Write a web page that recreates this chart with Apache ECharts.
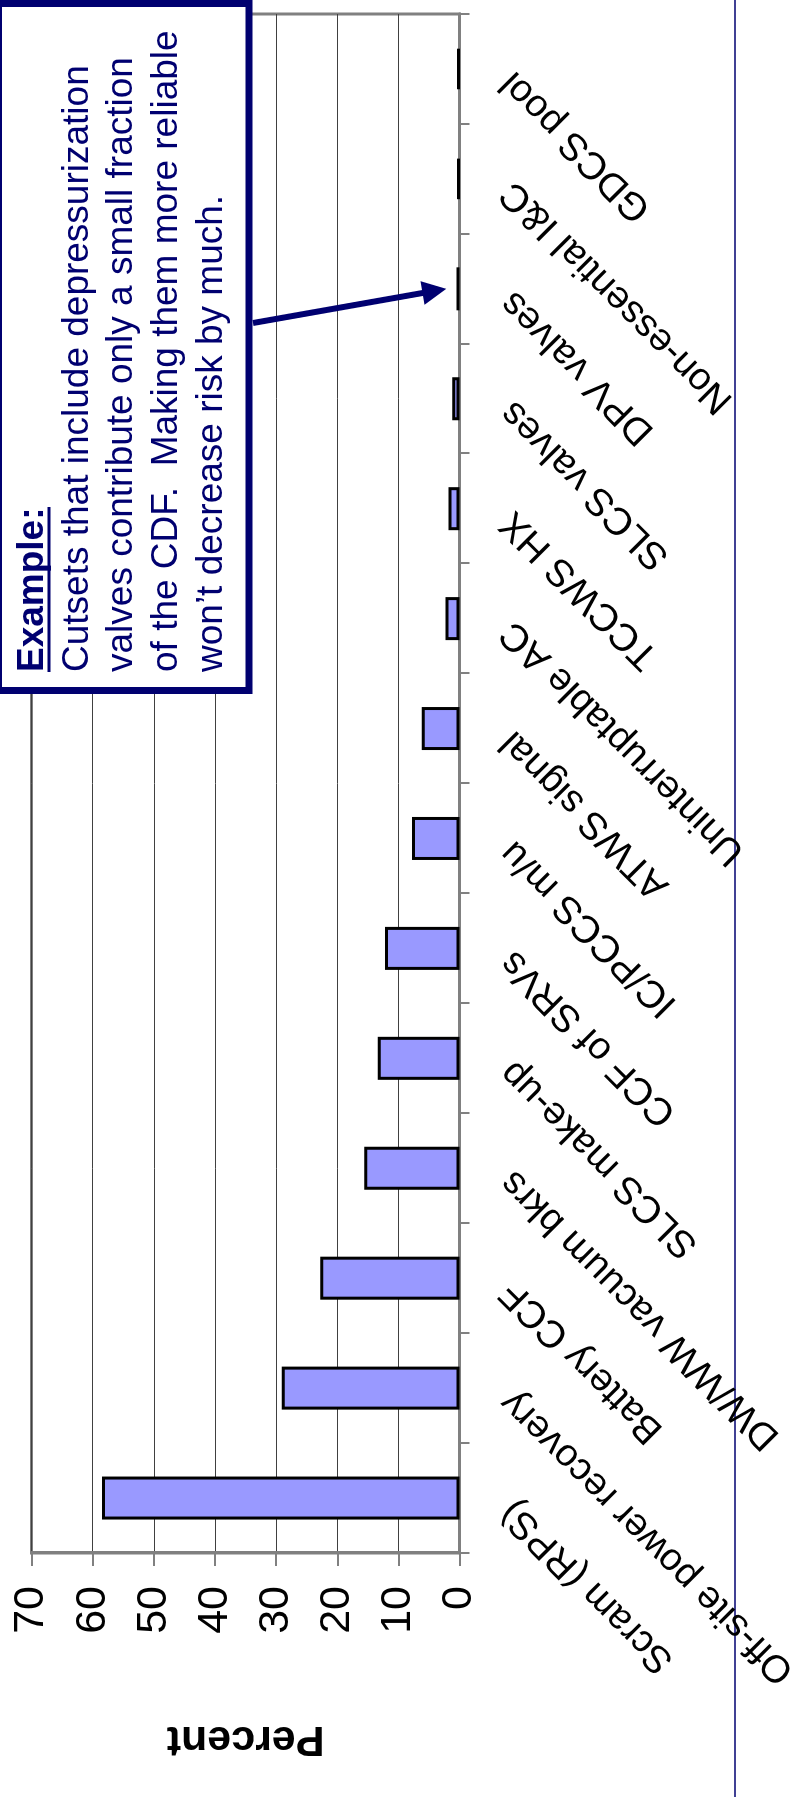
<!DOCTYPE html>
<html>
<head>
<meta charset="utf-8">
<title>Cutset contributions to CDF</title>
<script src="https://cdn.jsdelivr.net/npm/echarts@6/dist/echarts.min.js"></script>
<style>
  html, body { margin: 0; padding: 0; width: 799px; height: 1797px; overflow: hidden; background: #ffffff; }
  /* The chart is laid out landscape and turned a quarter turn counter-clockwise onto the portrait page. */
  #stage {
    position: absolute; left: 0; top: 0;
    width: 1797px; height: 799px;
    transform-origin: 0 0;
    transform: translateY(1797px) rotate(-90deg);
  }
</style>
</head>
<body>
<div id="stage"></div>
<script>
// Contributors, left to right along the category axis
const categories = [
  'Scram (RPS)',
  'Off-site power recovery',
  'Battery CCF',
  'DW/WW vacuum bkrs',
  'SLCS make-up',
  'CCF of SRVs',
  'IC/PCCS m/u',
  'ATWS signal',
  'Uninterruptable AC',
  'TCCWS HX',
  'SLCS valves',
  'DPV valves',
  'Non-essential I&C',
  'GDCS pool'
];

// Share of core damage frequency, percent
const percentValues = [58.5, 29.1, 22.8, 15.6, 13.4, 12.2, 7.8, 6.2, 2.3, 1.8, 1.2, 0.5, 0.4, 0.4];

// Value-axis tick labels
const percentTicks = [0, 10, 20, 30, 40, 50, 60, 70];

// Call-out text
const noteTitle = 'Example:';
const noteLines = [
  'Cutsets that include depressurization',
  'valves contribute only a small fraction',
  'of the CDF.  Making them more reliable',
  'won\u2019t decrease risk by much.'
];
const noteTarget = 'DPV valves';
const noteTargetValue = 2.2;

const FONT = 'Arial, "Liberation Sans", Helvetica, sans-serif';
const NAVY = '#000070';
const AXIS_GREY = '#808080';

const chart = echarts.init(document.getElementById('stage'), null, {
  renderer: 'canvas', width: 1797, height: 799
});

chart.setOption({
  animation: false,
  backgroundColor: '#ffffff',
  textStyle: { fontFamily: FONT },
  grid: {
    left: 244, top: 31.6, width: 1539, height: 428,
    show: true, borderColor: AXIS_GREY, borderWidth: 3,
    backgroundColor: 'transparent',
    containLabel: false, outerBoundsMode: 'none'
  },
  xAxis: {
    type: 'category',
    data: categories,
    boundaryGap: true,
    axisLine: { show: true, lineStyle: { color: AXIS_GREY, width: 3 } },
    axisTick: { show: true, length: 10, alignWithLabel: false, lineStyle: { color: AXIS_GREY, width: 2 } },
    axisLabel: {
      interval: 0, rotate: 45, margin: 39,
      fontSize: 38.5, color: '#000000', fontFamily: FONT,
      padding: [0, 12, 24, 0]
    },
    splitLine: { show: false }
  },
  yAxis: {
    type: 'value',
    min: percentTicks[0],
    max: percentTicks[percentTicks.length - 1],
    interval: percentTicks[1] - percentTicks[0],
    name: 'Percent',
    nameLocation: 'middle',
    nameGap: 164,
    nameTextStyle: { fontSize: 43, fontWeight: 'bold', color: '#000000', fontFamily: FONT },
    axisLine: { show: true, lineStyle: { color: AXIS_GREY, width: 3 } },
    axisTick: { show: true, length: 13, lineStyle: { color: AXIS_GREY, width: 2 } },
    axisLabel: { margin: 33, fontSize: 43, color: '#000000', fontFamily: FONT },
    splitLine: { show: true, lineStyle: { color: '#404040', width: 1 } }
  },
  series: [{
    type: 'bar',
    data: percentValues,
    barWidth: 43,
    silent: true,
    itemStyle: { color: '#9999FF', borderColor: '#000000', borderWidth: 3 }
  }]
});

// Call-out box with an arrow to the depressurization-valve bar
const tip = chart.convertToPixel({ gridIndex: 0 }, [categories.indexOf(noteTarget), noteTargetValue]);
const boxLeft = 1106.5, boxTop = -1.5, boxRight = 1793.5, boxBottom = 249;
const tail = [1474, boxBottom + 4];
const dx = tip[0] - tail[0], dy = tip[1] - tail[1];
const len = Math.sqrt(dx * dx + dy * dy);
const ux = dx / len, uy = dy / len;
const headLen = 24, headHalf = 12;
const base = [tip[0] - ux * headLen, tip[1] - uy * headLen];

const textX = 1125;
const firstBaseline = 44, lineStep = 44.8, fontPx = 37;
const mid = (i) => firstBaseline + i * lineStep - 0.31 * fontPx;

const graphics = [
  {
    type: 'line', z: 0, silent: true,
    shape: { x1: 0, y1: 735, x2: 1797, y2: 735 },
    style: { stroke: NAVY, lineWidth: 1.5 }
  },
  {
    type: 'rect', z: 100, silent: true,
    shape: { x: boxLeft, y: boxTop, width: boxRight - boxLeft, height: boxBottom - boxTop },
    style: { fill: '#ffffff', stroke: NAVY, lineWidth: 7 }
  },
  {
    type: 'text', z: 101, silent: true,
    style: {
      x: textX, y: mid(0), text: noteTitle, fill: NAVY,
      font: 'bold ' + fontPx + 'px ' + FONT, verticalAlign: 'middle', align: 'left'
    }
  },
  {
    type: 'line', z: 101, silent: true,
    shape: { x1: textX, y1: firstBaseline + 5, x2: textX + 165, y2: firstBaseline + 5 },
    style: { stroke: NAVY, lineWidth: 3 }
  },
  {
    type: 'line', z: 102, silent: true,
    shape: { x1: tail[0], y1: tail[1], x2: base[0] + ux * 2, y2: base[1] + uy * 2 },
    style: { stroke: NAVY, lineWidth: 6 }
  },
  {
    type: 'polygon', z: 102, silent: true,
    shape: { points: [
      tip,
      [base[0] - uy * headHalf, base[1] + ux * headHalf],
      [base[0] + uy * headHalf, base[1] - ux * headHalf]
    ] },
    style: { fill: NAVY }
  }
];
noteLines.forEach((t, i) => {
  graphics.push({
    type: 'text', z: 101, silent: true,
    style: {
      x: textX, y: mid(i + 1), text: t, fill: NAVY,
      font: fontPx + 'px ' + FONT, verticalAlign: 'middle', align: 'left'
    }
  });
});

chart.setOption({ graphic: graphics });
</script>
</body>
</html>
